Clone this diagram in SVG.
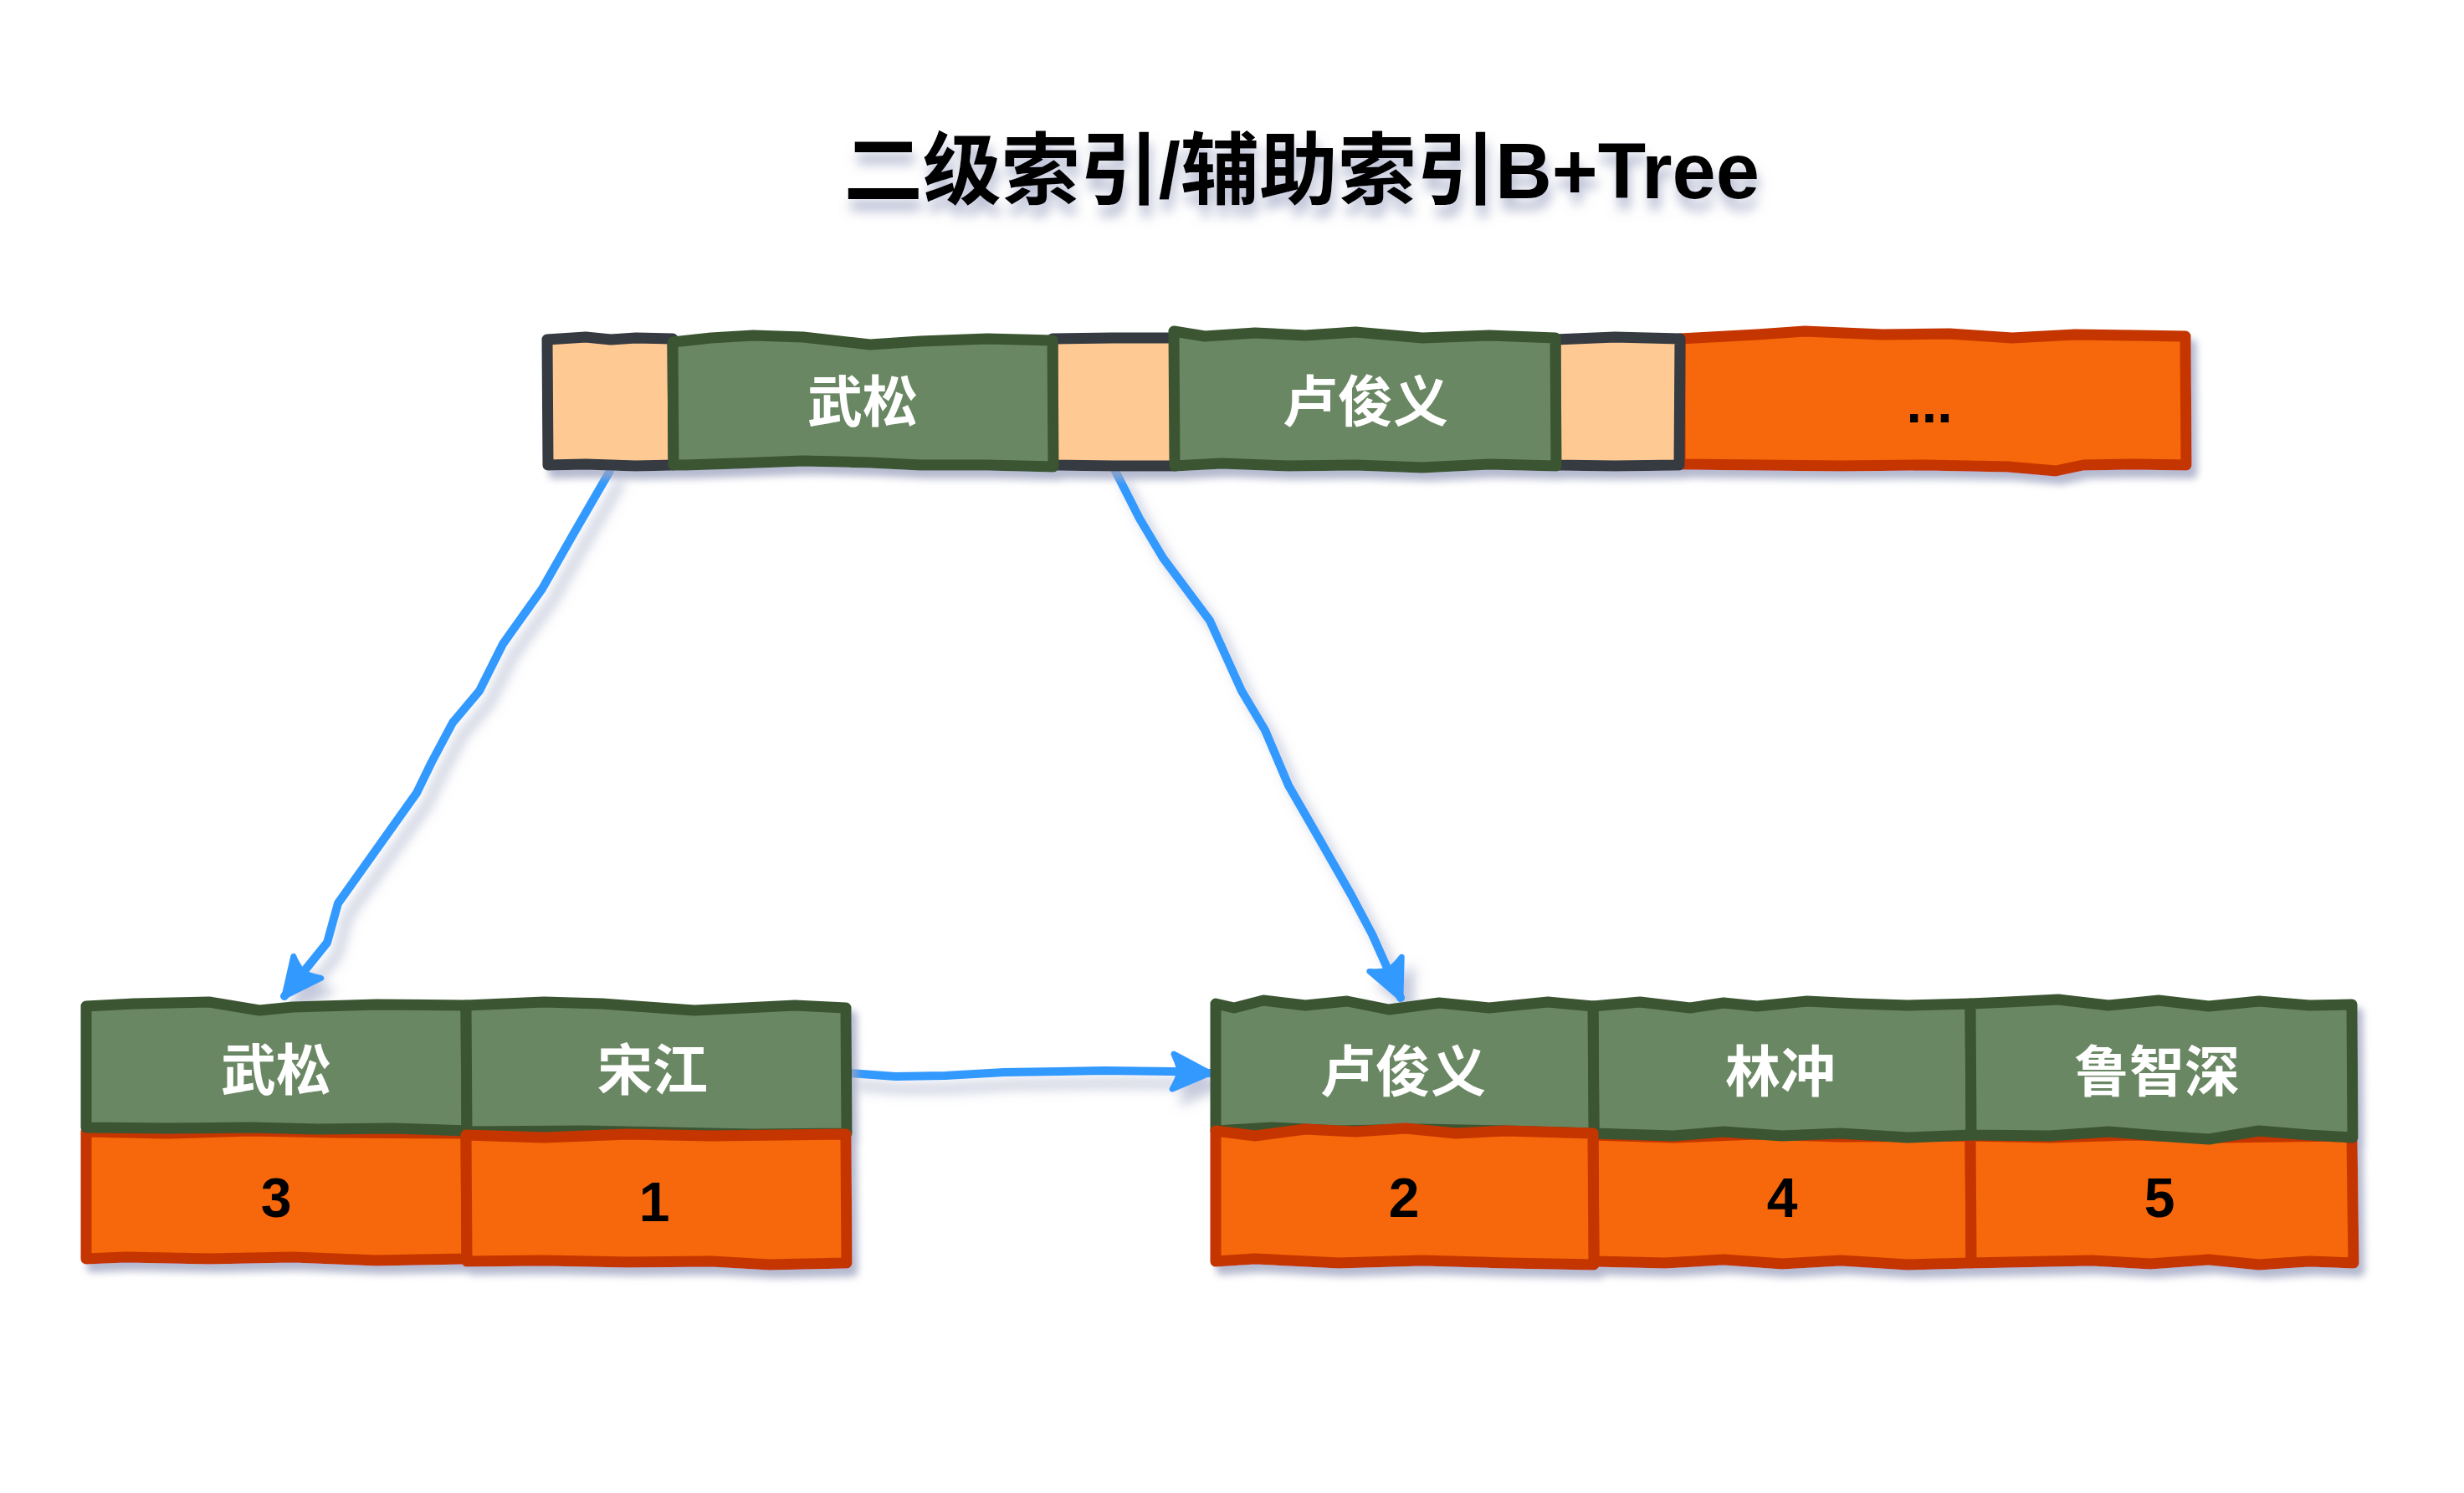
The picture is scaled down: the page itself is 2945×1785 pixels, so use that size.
<svg xmlns="http://www.w3.org/2000/svg" width="2945" height="1785" viewBox="0 0 2945 1785">
  <defs>
    <style>
      .peach { fill: #ffc994; stroke: #343a40; stroke-width: 13; stroke-linejoin: round; }
      .green { fill: #6b8763; stroke: #3b5530; stroke-width: 13; stroke-linejoin: round; }
      .orange { fill: #f76707; stroke: #c53500; stroke-width: 13; stroke-linejoin: round; }
      .name { font-family: "Liberation Sans", "Noto Sans CJK SC", sans-serif; font-weight: bold; font-size: 66px; fill: #ffffff; text-anchor: middle; dominant-baseline: central; }
      .num { font-family: "Liberation Sans", "Noto Sans CJK SC", sans-serif; font-weight: bold; font-size: 66px; fill: #000000; text-anchor: middle; dominant-baseline: central; }
      .title { font-family: "Liberation Sans", "Noto Sans CJK SC", sans-serif; font-weight: bold; font-size: 94px; fill: #000000; text-anchor: middle; }
      .link { fill: none; stroke: #3399ff; stroke-width: 10; stroke-linecap: round; stroke-linejoin: round; marker-end: url(#head); }
    </style>
    <filter id="boxShadow" x="-10%" y="-20%" width="120%" height="150%">
      <feDropShadow dx="7" dy="10" stdDeviation="4" flood-color="#9ea3c0" flood-opacity="0.75"/>
    </filter>
    <filter id="titleShadow" x="-10%" y="-30%" width="120%" height="170%">
      <feDropShadow dx="3" dy="14" stdDeviation="7" flood-color="#7d86ad" flood-opacity="0.55"/>
    </filter>
    <filter id="lineShadow" x="-30%" y="-30%" width="160%" height="160%">
      <feDropShadow dx="12" dy="15" stdDeviation="7" flood-color="#8a93b8" flood-opacity="0.5"/>
    </filter>
    <marker id="head" markerUnits="userSpaceOnUse" viewBox="-60 -34 68 68" markerWidth="68" markerHeight="68" refX="0" refY="0" orient="auto" overflow="visible">
      <path d="M0,0 L-44,-21 Q-38,-10 -36,0 Q-38,10 -44,21 Z" fill="#3399ff" stroke="#3399ff" stroke-width="7" stroke-linejoin="round"/>
    </marker>
  </defs>

  <rect x="0" y="0" width="2945" height="1785" fill="#ffffff"/>

  <!-- heading -->
  <text id="title" class="title" x="1556" y="237" filter="url(#titleShadow)">二级索引/辅助索引B+Tree</text>

  <!-- connectors -->
  <g id="connectors" filter="url(#lineShadow)">
    <path id="edge-root-left" class="link" d="M729,563 L685,639 L648,704 L601,770 L573,826 L541,864 L516,911 L498,948 L451,1014 L404,1080 L391,1127 L366,1158 L340,1191"/>
    <path id="edge-root-right" class="link" d="M1333,563 L1362,620 L1390,667 L1446,742 L1484,826 L1512,873 L1540,939 L1578,1005 L1615,1070 L1640,1117 L1674,1193"/>
    <path id="edge-leaf-next" class="link" d="M1016,1283 L1070,1287 L1130,1286 L1200,1282 L1320,1280 L1400,1281 L1446,1283"/>
  </g>

  <!-- root index page -->
  <g id="root-node" filter="url(#boxShadow)">
    <path class="orange" d="M2008,405 L2100,400 L2157,396 L2250,400 L2330,399 L2405,404 L2480,400 L2550,401 L2612,402 L2613,556 L2550,555 L2490,556 L2457,563 L2400,558 L2300,556 L2200,557 L2100,556 L2008,555 Z"/>
    <path class="peach" d="M654,406 L700,403 L730,406 L760,404 L804,405 L805,556 L760,557 L700,555 L655,556 Z"/>
    <path class="peach" d="M1258,405 L1330,404 L1405,404 L1405,557 L1330,557 L1258,556 Z"/>
    <path class="peach" d="M1859,406 L1930,403 L2008,405 L2007,556 L1930,557 L1859,556 Z"/>
    <path class="green" d="M804,409 L850,404 L900,401 L960,403 L1040,412 L1100,408 L1180,405 L1258,407 L1259,558 L1180,556 L1100,556 L1040,553 L960,551 L880,554 L820,556 L805,556 Z"/>
    <path class="green" d="M1403,396 L1440,402 L1500,398 L1560,401 L1620,397 L1700,404 L1780,401 L1859,404 L1860,557 L1780,555 L1700,559 L1620,556 L1540,557 L1460,554 L1404,557 Z"/>
    <text class="name" x="1031" y="481">武松</text>
    <text class="name" x="1632" y="481">卢俊义</text>
    <text class="num" x="2306" y="505" style="dominant-baseline: auto">...</text>
  </g>

  <!-- left leaf page -->
  <g id="leaf-left" filter="url(#boxShadow)">
    <path class="orange" d="M103,1353 L200,1355 L300,1352 L400,1354 L557,1355 L558,1505 L450,1507 L350,1503 L250,1505 L150,1503 L103,1505 Z"/>
    <path class="green" d="M103,1203 L160,1200 L250,1198 L310,1208 L350,1204 L450,1201 L557,1202 L558,1352 L470,1349 L380,1350 L300,1348 L200,1349 L103,1348 Z"/>
    <path class="green" d="M557,1202 L650,1198 L720,1200 L760,1203 L830,1208 L950,1202 L1011,1205 L1012,1355 L900,1356 L800,1354 L700,1352 L558,1353 Z"/>
    <path class="orange" d="M557,1357 L650,1360 L750,1356 L850,1358 L1011,1356 L1012,1510 L920,1512 L850,1508 L750,1509 L650,1507 L558,1508 Z"/>
    <text class="name" x="330" y="1280">武松</text>
    <text class="name" x="780" y="1280">宋江</text>
    <text class="num" x="330" y="1432">3</text>
    <text class="num" x="782" y="1437">1</text>
  </g>

  <!-- right leaf page -->
  <g id="leaf-right" filter="url(#boxShadow)">
    <path class="orange" d="M1904,1357 L2000,1360 L2100,1356 L2200,1359 L2355,1358 L2356,1510 L2280,1512 L2200,1507 L2130,1511 L2060,1506 L1990,1510 L1905,1508 Z"/>
    <path class="orange" d="M2355,1358 L2450,1360 L2550,1357 L2650,1360 L2811,1358 L2813,1510 L2760,1508 L2700,1512 L2640,1506 L2570,1511 L2500,1507 L2356,1510 Z"/>
    <path class="green" d="M1904,1203 L1960,1198 L2020,1205 L2060,1199 L2100,1203 L2160,1197 L2220,1200 L2280,1202 L2355,1200 L2356,1357 L2280,1360 L2200,1355 L2130,1358 L2060,1353 L2000,1358 L1905,1355 Z"/>
    <path class="green" d="M2355,1200 L2400,1198 L2460,1195 L2520,1202 L2580,1196 L2640,1203 L2700,1197 L2760,1202 L2811,1201 L2812,1360 L2760,1357 L2700,1352 L2640,1362 L2580,1358 L2520,1353 L2450,1358 L2356,1357 Z"/>
    <path class="green" d="M1453,1200 L1475,1205 L1510,1196 L1560,1202 L1610,1197 L1660,1207 L1720,1199 L1780,1205 L1850,1198 L1904,1203 L1905,1355 L1800,1352 L1700,1350 L1600,1352 L1520,1348 L1453,1352 Z"/>
    <path class="orange" d="M1453,1352 L1500,1358 L1560,1350 L1620,1353 L1680,1349 L1740,1355 L1800,1352 L1904,1355 L1905,1512 L1800,1510 L1700,1507 L1600,1510 L1500,1505 L1453,1508 Z"/>
    <text class="name" x="1677" y="1282">卢俊义</text>
    <text class="name" x="2128" y="1282">林冲</text>
    <text class="name" x="2578" y="1282">鲁智深</text>
    <text class="num" x="1678" y="1432">2</text>
    <text class="num" x="2130" y="1432">4</text>
    <text class="num" x="2581" y="1432">5</text>
  </g>
</svg>
